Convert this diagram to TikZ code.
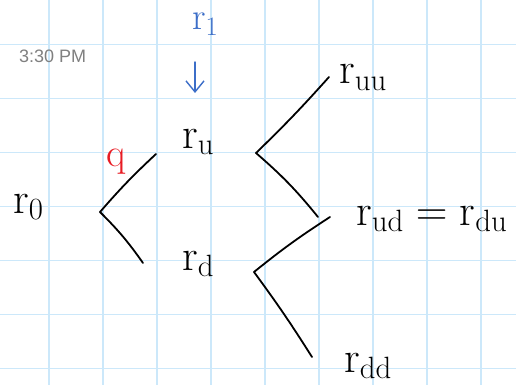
\RequirePackage{fix-cm}
\documentclass[tikz,border=0pt]{standalone}
\usepackage{fontspec}
\newfontfamily\stampfont{Liberation Sans}
\usetikzlibrary{arrows.meta,positioning,calc}
\definecolor{gridblue}{RGB}{204,232,250}
\definecolor{inkblue}{RGB}{60,110,200}
\definecolor{inkred}{RGB}{232,28,36}
\definecolor{stampgray}{RGB}{128,128,128}

\begin{document}
\begin{tikzpicture}[
  x=1pt, y=-1pt,
  rate/.style={anchor=base west, inner sep=0pt, font=\fontsize{44}{48}\selectfont},
  branch/.style={line width=1.8pt, line cap=round},
  gridline/.style={gridblue, line width=1.6pt}
]
\useasboundingbox (0,0) rectangle (516,385);
\fill[white] (0,0) rectangle (516,385);

% --- paper grid ---
\foreach \gx in {0,...,8} \draw[gridline] (48.7+54*\gx,0) -- (48.7+54*\gx,385);
\foreach \gy in {0,...,6} \draw[gridline] (0,44.5+54*\gy) -- (516,44.5+54*\gy);

% --- time stamp ---
\node[anchor=base west, inner sep=0pt, stampgray, font=\stampfont\fontsize{18}{21}\selectfont] (stamp) at (19,63) {3:30 PM};

% --- nodes (absolute placement for fidelity) ---
\node[rate, inkblue, font=\fontsize{38}{42}\selectfont] (r1) at (192,30) {$\mathrm{r}_{\mathrm{1}}$};
\node[rate] (ru)  at (182,148) {$\mathrm{r}_{\mathrm{u}}$};
\node[rate] (r0)  at (13,213)  {$\mathrm{r}_{\mathrm{0}}$};
\node[rate] (rd)  at (182,270) {$\mathrm{r}_{\mathrm{d}}$};
\node[rate] (ruu) at (339,84)  {$\mathrm{r}_{\mathrm{uu}}$};
\node[rate] (rud) at (356,225) {$\mathrm{r}_{\mathrm{ud}}=\mathrm{r}_{\mathrm{du}}$};
\node[rate] (rdd) at (344,372) {$\mathrm{r}_{\mathrm{dd}}$};
\node[rate, inkred, font=\fontsize{40}{44}\selectfont] (q) at (106,166) {q};

% --- branch points and free ends ---
\coordinate (b0) at (100,212);
\coordinate (bu) at (256,153);
\coordinate (bd) at (254,272);
\coordinate (e0u) at (156,154);
\coordinate (e0d) at (143,263);
\coordinate (euu) at (329,77);
\coordinate (eud) at (318,217);
\coordinate (edu) at (330,217);
\coordinate (edd) at (312,357);
\coordinate (a1) at (195,62);
\coordinate (a2) at (195,93);

% --- edges ---
% from r_0
\draw[branch] (b0) to[bend left=3] (e0u);
\draw[branch] (b0) to[bend left=5] (e0d);
% from r_u
\draw[branch] (bu) to[bend right=2] (euu);
\draw[branch] (bu) to[bend left=5] (eud);
% from r_d
\draw[branch] (bd) to[bend left=3] (edu);
\draw[branch] (bd) to[bend left=2] (edd);

% r_1 pointing at r_u
\draw[inkblue, line width=1.4pt, line cap=round, -{Straight Barb[length=11pt, width=18pt, line width=1.4pt]}] (a1) -- (a2);

\end{tikzpicture}
\end{document}
